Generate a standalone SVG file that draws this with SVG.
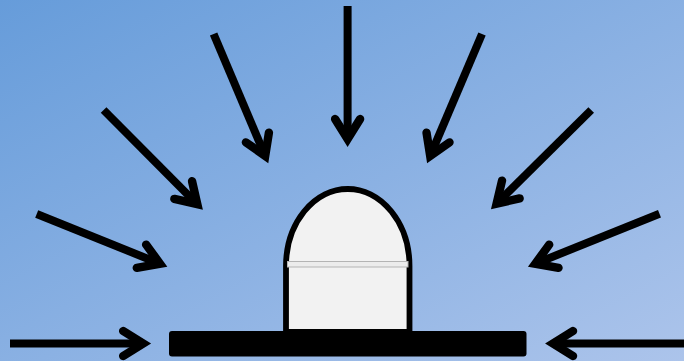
<svg xmlns="http://www.w3.org/2000/svg" width="684" height="361" viewBox="0 0 684 361">
  <style>
    .arrow { fill: none; stroke: #000; stroke-width: 8; marker-end: url(#head); }
    .head { fill: none; stroke: #000; stroke-width: 8.4; stroke-linecap: round; stroke-linejoin: miter; stroke-miterlimit: 4; }
  </style>
  <defs>
    <linearGradient id="bg" x1="0" y1="0" x2="1" y2="1">
      <stop offset="0" stop-color="#669cda"/>
      <stop offset="1" stop-color="#acc4eb"/>
    </linearGradient>
    <marker id="head" markerUnits="userSpaceOnUse" orient="auto" overflow="visible" markerWidth="40" markerHeight="40" refX="0" refY="0" viewBox="-30 -20 40 40">
      <path class="head" d="M-20,-12.5 L0,0 L-20,12.5"/>
    </marker>
  </defs>
  <rect id="background" width="684" height="361" fill="url(#bg)"/>
  <g id="connectors">
    <line class="arrow" x1="347.6" y1="6" x2="347.6" y2="139"/>
    <line class="arrow" x1="213.6" y1="34" x2="265.2" y2="155.9"/>
    <line class="arrow" x1="482" y1="34" x2="430.2" y2="155.9"/>
    <line class="arrow" x1="103.6" y1="110" x2="197.3" y2="204.2"/>
    <line class="arrow" x1="591.2" y1="110" x2="496.6" y2="203.6"/>
    <line class="arrow" x1="36.7" y1="214" x2="160" y2="263.7"/>
    <line class="arrow" x1="659.5" y1="213.8" x2="535.3" y2="263.7"/>
    <line class="arrow" x1="10" y1="343.5" x2="143.2" y2="343.5"/>
    <line class="arrow" x1="684" y1="343.5" x2="553" y2="343.5"/>
  </g>
  <g id="dome">
    <path d="M286,332 V266 A61.75,77 0 0 1 409.5,266 V332 Z" fill="#f2f2f2" stroke="#000" stroke-width="5.8"/>
    <rect x="287.5" y="261.5" width="120.5" height="5.5" fill="#ececec" stroke="#b4b4b4" stroke-width="1"/>
  </g>
  <g id="base">
    <rect x="169" y="331" width="357.5" height="25.5" rx="3" fill="#000"/>
  </g>
</svg>
